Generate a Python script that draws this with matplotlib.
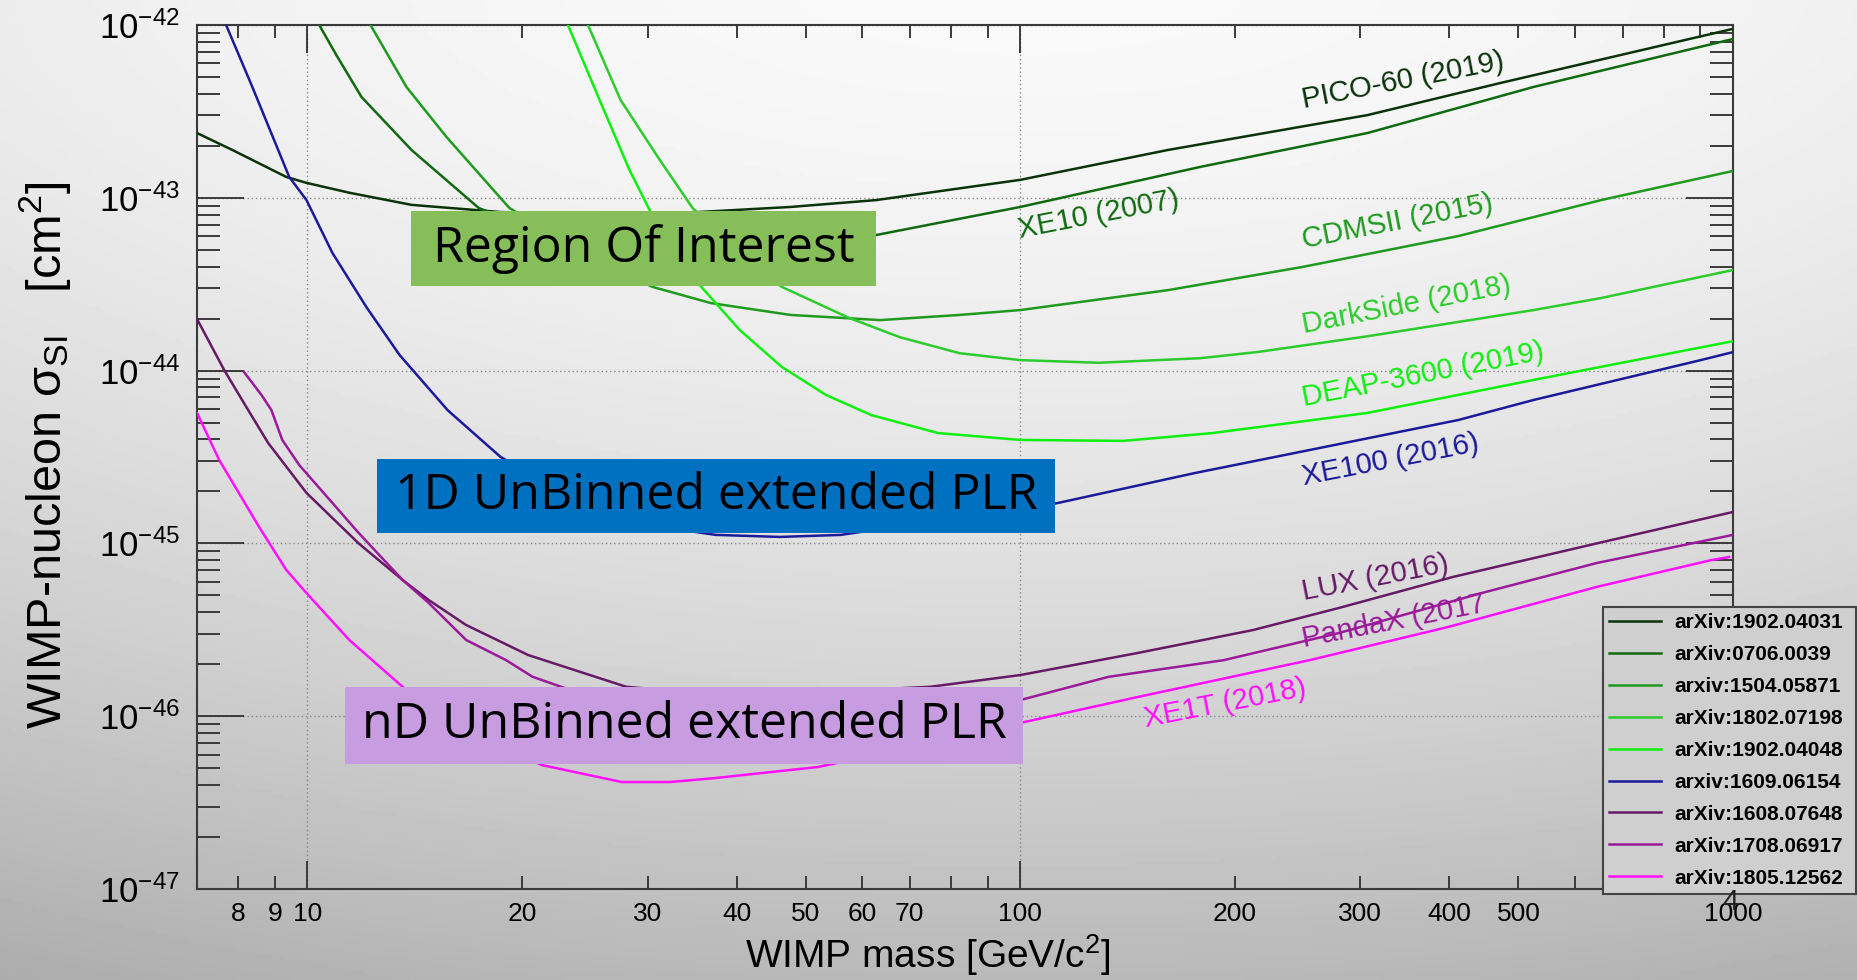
import numpy as np
import matplotlib.pyplot as plt
from matplotlib.patches import Rectangle
from matplotlib.ticker import FixedLocator, FuncFormatter, LogLocator, NullFormatter

plt.rcParams['font.family'] = ['Liberation Sans', 'DejaVu Sans']
plt.rcParams['mathtext.fontset'] = 'custom'
plt.rcParams['mathtext.rm'] = 'Liberation Sans'
plt.rcParams['mathtext.it'] = 'Liberation Sans:italic'
plt.rcParams['mathtext.bf'] = 'Liberation Sans:bold'

# limit curves, WIMP mass [GeV/c^2] vs sigma_SI [cm^2]
pico_m = [7.0, 7.85, 9.34, 9.97, 11.45, 14.0, 18.6, 25.7, 35.5, 47.6, 62.8, 100, 161, 307,
          472, 1000]
pico_s = [2.37e-43, 1.89e-43, 1.32e-43, 1.22e-43, 1.07e-43, 9.1e-44, 8.28e-44, 7.95e-44,
          8.28e-44, 8.85e-44, 9.7e-44, 1.27e-43, 1.89e-43, 3.01e-43, 4.62e-43, 9.5e-43]

xe10_m = [10.39, 10.98, 11.91, 14.0, 17.39, 21.9, 27.4, 35.5, 46.0, 62.8, 100, 179, 307,
          525, 1000]
xe10_s = [1e-42, 6.7e-43, 3.83e-43, 1.89e-43, 8.73e-44, 6.01e-44, 5.19e-44, 4.92e-44,
          5.19e-44, 6.09e-44, 8.85e-44, 1.51e-43, 2.37e-43, 4.38e-43, 8.3e-43]

cdms_m = [12.26, 13.77, 15.67, 19.2, 24.1, 27.4, 30.5, 36.8, 47.6, 63.6, 82.3, 100, 161,
          249, 412, 653, 1000]
cdms_s = [1e-42, 4.38e-43, 2.25e-43, 8.73e-44, 4.99e-44, 3.72e-44, 3.05e-44, 2.46e-44,
          2.1e-44, 1.96e-44, 2.1e-44, 2.24e-44, 2.92e-44, 3.98e-44, 6.01e-44, 9.7e-44, 1.43e-43]

ds_m = [24.75, 27.5, 31.2, 34.7, 40.4, 46.3, 57.5, 67.8, 82.3, 100, 129, 179, 215, 307,
        525, 653, 1000]
ds_s = [1e-42, 3.68e-43, 1.66e-43, 8.73e-44, 4.67e-44, 3.05e-44, 2.02e-44, 1.56e-44,
        1.26e-44, 1.15e-44, 1.11e-44, 1.18e-44, 1.28e-44, 1.58e-44, 2.24e-44, 2.63e-44,
        3.82e-44]

deap_m = [23.2, 25.7, 28.3, 31.2, 35.5, 40.4, 46.3, 53.4, 61.8, 76.7, 100, 139.5, 186, 307,
          525, 1000]
deap_s = [1e-42, 3.68e-43, 1.45e-43, 6.51e-44, 3.13e-44, 1.72e-44, 1.05e-44, 7.23e-45,
          5.53e-45, 4.35e-45, 3.97e-45, 3.92e-45, 4.35e-45, 5.69e-45, 8.83e-45, 1.48e-44]

xe100_m = [7.69, 8.37, 9.43, 9.97, 10.84, 12.1, 13.47, 15.73, 18.67, 22.6, 27.4, 33.3, 37.4,
           46.0, 56.0, 112.7, 175.5, 254.6, 412, 525, 901, 1000]
xe100_s = [1e-42, 4.38e-43, 1.32e-43, 9.7e-44, 4.8e-44, 2.33e-44, 1.23e-44, 5.9e-45,
           3.16e-45, 2.04e-45, 1.46e-45, 1.2e-45, 1.12e-45, 1.09e-45, 1.12e-45, 1.71e-45,
           2.55e-45, 3.47e-45, 5.18e-45, 6.76e-45, 1.15e-44, 1.28e-44]

lux_m = [7.0, 7.64, 8.21, 8.81, 9.97, 11.8, 13.6, 14.8, 16.7, 20.4, 28.0, 35.5, 49.1, 74.8,
         100, 146, 212, 280, 405, 644, 1000]
lux_s = [1.99e-44, 1.01e-44, 6.15e-45, 3.81e-45, 1.96e-45, 1.0e-45, 6.14e-46, 4.7e-46,
         3.37e-46, 2.26e-46, 1.48e-46, 1.36e-46, 1.36e-46, 1.48e-46, 1.73e-46, 2.32e-46,
         3.15e-46, 4.23e-46, 6.4e-46, 1.0e-45, 1.52e-45]

pandax_m = [8.15, 8.62, 8.9, 9.22, 9.74, 11.8, 13.6, 14.8, 16.7, 19.0, 20.7, 22.9, 30.2,
            41.8, 57.7, 79.8, 100, 133, 193, 280, 444, 644, 1000]
pandax_s = [9.8e-45, 7.23e-45, 5.92e-45, 3.97e-45, 2.84e-45, 1.15e-45, 6.14e-46, 4.52e-46,
            2.76e-46, 2.11e-46, 1.69e-46, 1.46e-46, 1.06e-46, 9.25e-47, 9.77e-47, 1.12e-46,
            1.24e-46, 1.69e-46, 2.11e-46, 3.03e-46, 5.16e-46, 7.7e-46, 1.12e-45]

xe1t_m = [7.0, 7.52, 8.56, 9.34, 9.97, 11.45, 13.6, 15.8, 18.6, 21.3, 27.6, 32.3, 37.4,
          52.0, 67.8, 100, 146, 254.6, 398, 644, 934, 987]
xe1t_s = [5.69e-45, 3.04e-45, 1.24e-45, 7.02e-46, 5.16e-46, 2.76e-46, 1.48e-46, 9.5e-47,
          6.81e-47, 5.22e-47, 4.16e-47, 4.16e-47, 4.39e-47, 5.08e-47, 6.37e-47, 9.14e-47,
          1.29e-46, 2.11e-46, 3.28e-46, 5.6e-46, 8.02e-46, 8.34e-46]

names = ['PICO-60 (2019)', 'XE10 (2007)', 'CDMSII (2015)', 'DarkSide (2018)',
         'DEAP-3600 (2019)', 'XE100 (2016)', 'LUX (2016)', 'PandaX (2017', 'XE1T (2018)']
refs = ['arXiv:1902.04031', 'arXiv:0706.0039', 'arxiv:1504.05871', 'arXiv:1802.07198',
        'arXiv:1902.04048', 'arxiv:1609.06154', 'arXiv:1608.07648', 'arXiv:1708.06917',
        'arXiv:1805.12562']
colors = ['#0a330a', '#106a10', '#1f9a1f', '#2ccc2c', '#10f010', '#1a1a9a',
          '#661a66', '#9a1a9a', '#ff10ff']
masses = [pico_m, xe10_m, cdms_m, ds_m, deap_m, xe100_m, lux_m, pandax_m, xe1t_m]
sigmas = [pico_s, xe10_s, cdms_s, ds_s, deap_s, xe100_s, lux_s, pandax_s, xe1t_s]

# where the curve names sit (left end of baseline)
label_m = [250, 100, 250, 250, 250, 250, 250, 250, 150]
label_s = [3.3e-43, 5.85e-44, 5.1e-44, 1.65e-44, 6.2e-45, 2.18e-45, 4.7e-46, 2.5e-46, 8.7e-47]

W, H = 1858, 980
fig = plt.figure(figsize=(W / 100, H / 100), dpi=100)

# grey slide background
bg = fig.add_axes([0, 0, 1, 1], zorder=-10)
yy, xx = np.mgrid[0:1:300j, 0:1:300j]
shade = 0.975 - 0.25 * yy**1.6 - 0.05 * ((xx - 0.55) / 0.55)**2
bg.imshow(shade, cmap='gray', vmin=0, vmax=1, aspect='auto', extent=[0, 1, 0, 1],
          origin='upper')
bg.axis('off')

ax = fig.add_axes([197 / W, (H - 889) / H, (1733 - 197) / W, (889 - 25) / H])
ax.set_facecolor('none')
ax.set_xscale('log')
ax.set_yscale('log')
ax.set_xlim(7, 1000)
ax.set_ylim(1e-47, 1e-42)

for m, s, c, r in zip(masses, sigmas, colors, refs):
    ax.plot(m, s, color=c, lw=1.8, label=r, zorder=3)

for n, lm, ls, c in zip(names, label_m, label_s, colors):
    ax.text(lm, ls, n, color=c, fontsize=21, rotation=11, rotation_mode='anchor',
            ha='left', va='baseline', zorder=4)

# ticks, ROOT style
ax.xaxis.set_major_locator(FixedLocator([10, 100, 1000]))
ax.xaxis.set_major_formatter(FuncFormatter(lambda v, p: '%d' % v))
minor_x = [8, 9, 20, 30, 40, 50, 60, 70, 80, 90, 200, 300, 400, 500, 600, 700, 800, 900]
shown_x = [8, 9, 20, 30, 40, 50, 60, 70, 200, 300, 400, 500]
ax.xaxis.set_minor_locator(FixedLocator(minor_x))
ax.xaxis.set_minor_formatter(FuncFormatter(
    lambda v, p: '%d' % v if int(round(v)) in shown_x else ''))
ax.yaxis.set_major_locator(FixedLocator([1e-47, 1e-46, 1e-45, 1e-44, 1e-43, 1e-42]))
ax.yaxis.set_major_formatter(FuncFormatter(lambda v, p: r'$10^{%d}$' % round(np.log10(v))))
ax.yaxis.set_minor_locator(LogLocator(base=10, subs=np.arange(2, 10), numticks=20))
ax.yaxis.set_minor_formatter(NullFormatter())

tc = '#3a3a3a'
ax.tick_params(axis='y', which='major', direction='in', length=34, width=1.4, color=tc,
               left=True, right=True, labelsize=25, pad=12)
ax.tick_params(axis='y', which='minor', direction='in', length=16.5, width=1.4, color=tc,
               left=True, right=True)
ax.tick_params(axis='x', which='major', direction='in', length=20, width=1.4, color=tc,
               top=True, bottom=True, labelsize=19, pad=9)
ax.tick_params(axis='x', which='minor', direction='in', length=9.5, width=1.4, color=tc,
               top=True, bottom=True, labelsize=19, pad=9)
for sp in ax.spines.values():
    sp.set_color(tc)
    sp.set_linewidth(1.5)
ax.grid(True, which='major', ls=(0, (1, 2)), color='#888888', lw=1.0)

ax.set_xlabel(r'WIMP mass [GeV/c$^{2}$]', fontsize=28)
ax.xaxis.set_label_coords(0.476, -0.050)
ax.set_ylabel(r'WIMP-nucleon σ$_{\mathrm{SI}}$   [cm$^{2}$]', fontsize=35)
ax.yaxis.set_label_coords(-0.081, 0.502)

leg = ax.legend(loc='upper left',
                bbox_to_anchor=(1603 / W, 1 - 607 / H - 0.01, (1856 - 1603) / W, 0.01),
                bbox_transform=fig.transFigure, mode='expand', borderaxespad=0,
                prop={'family': 'Liberation Sans', 'weight': 'bold', 'size': 15},
                handlelength=2.5, handletextpad=0.62, labelspacing=0.62, borderpad=0.3,
                fancybox=False, framealpha=1, facecolor='#cfcfcf', edgecolor='#444444')
leg.get_frame().set_linewidth(1.5)
leg.set_zorder(10)

# method boxes on top of the curves
boxes = [('Region Of Interest', 411, 211, 876, 286, '#86bf5a'),
         ('1D UnBinned extended PLR', 377, 459, 1055, 533, '#0070c0'),
         ('nD UnBinned extended PLR', 345, 687, 1023, 764, '#c89ce0')]
for txt, x0, y0, x1, y1, fc in boxes:
    fig.add_artist(Rectangle((x0 / W, 1 - y1 / H), (x1 - x0) / W, (y1 - y0) / H,
                             transform=fig.transFigure, facecolor=fc, edgecolor='none',
                             zorder=5))
    fig.text((x0 + x1) / 2 / W, 1 - (y0 + y1) / 2 / H, txt, ha='center', va='center',
             fontsize=36, family='Open Sans', color='black', zorder=6)

# slide number
fig.text(1730 / W, 1 - 902 / H, '4', fontsize=21, ha='center', va='center', color='#222222')

fig.savefig('out.png', dpi=100)
